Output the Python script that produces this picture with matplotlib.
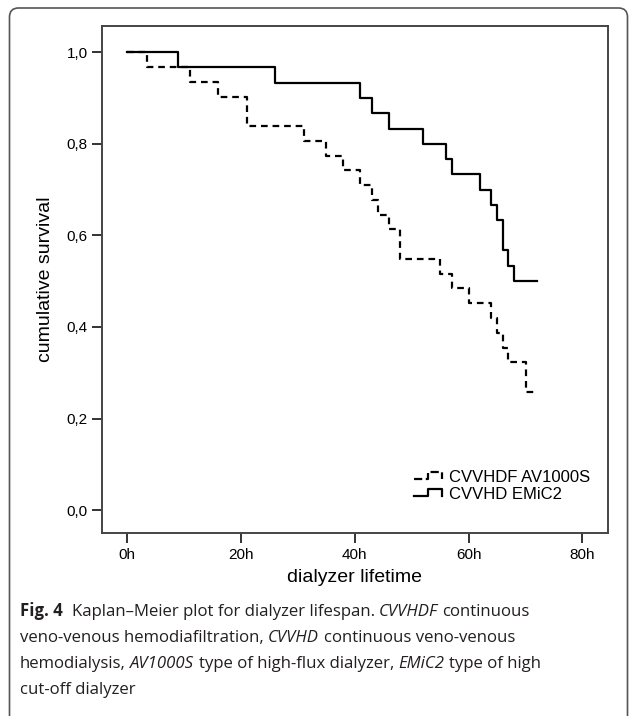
import matplotlib
matplotlib.use("Agg")
import matplotlib.pyplot as plt
from matplotlib.lines import Line2D
from matplotlib.legend_handler import HandlerLine2D
from matplotlib.patches import FancyBboxPatch
from matplotlib.transforms import IdentityTransform

# Kaplan-Meier step data (hours, cumulative survival)
hdf_time = [0, 3.5, 11, 16, 21, 31, 35, 38, 41, 43, 44, 46, 48, 55, 57, 60, 64, 65, 66, 67, 70, 72]
hdf_surv = [1.0, 0.968, 0.935, 0.903, 0.839, 0.806, 0.774, 0.742, 0.710, 0.677, 0.645, 0.613,
            0.548, 0.516, 0.484, 0.452, 0.419, 0.387, 0.355, 0.323, 0.258, 0.258]
hd_time = [0, 9, 26, 41, 43, 46, 52, 56, 57, 62, 64, 65, 66, 67, 68, 72]
hd_surv = [1.0, 0.967, 0.933, 0.9, 0.867, 0.833, 0.8, 0.767, 0.733, 0.7, 0.667, 0.633,
           0.567, 0.533, 0.5, 0.5]

x_ticks = [0, 20, 40, 60, 80]
x_ticklabels = ["0h", "20h", "40h", "60h", "80h"]
y_ticks = [0.0, 0.2, 0.4, 0.6, 0.8, 1.0]
y_ticklabels = ["0,0", "0,2", "0,4", "0,6", "0,8", "1,0"]
labels = ["CVVHDF AV1000S", "CVVHD EMiC2"]

W, H = 629, 716
plt.rcParams["font.family"] = ["Liberation Sans", "DejaVu Sans"]

fig = plt.figure(figsize=(W / 100, H / 100), dpi=100)
ax = fig.add_axes([101.5 / W, 1 - 533 / H, 506 / W, 507 / H])


class StepHandler(HandlerLine2D):
    # SPSS style legend handle: small step shape
    def create_artists(self, legend, orig_handle, xdescent, ydescent, width, height, fontsize, trans):
        x0 = -xdescent
        lo = -ydescent + height * 0.2
        hi = -ydescent + height * 0.8
        xs = [x0, x0 + width * 0.45, x0 + width * 0.45, x0 + width * 0.88, x0 + width * 0.88]
        ys = [lo, lo, hi, hi, lo]
        ln = Line2D(xs, ys, color=orig_handle.get_color(), lw=orig_handle.get_linewidth(),
                    linestyle=orig_handle.get_linestyle())
        ln.set_transform(trans)
        return [ln]


l1, = ax.step(hdf_time, hdf_surv, where="post", color="black", lw=1.6, ls=(0, (3, 2.2)))
l2, = ax.step(hd_time, hd_surv, where="post", color="black", lw=1.6)

ax.set_xlim(-4.5, 84.4)
ax.set_ylim(-0.05, 1.057)
ax.set_xticks(x_ticks)
ax.set_xticklabels(x_ticklabels)
ax.set_yticks(y_ticks)
ax.set_yticklabels(y_ticklabels)
ax.tick_params(axis="both", length=7, width=1.4, labelsize=11, color="#333333")
ax.tick_params(axis="x", pad=4)
ax.tick_params(axis="y", pad=3)
for sp in ax.spines.values():
    sp.set_linewidth(1.4)
    sp.set_color("#444444")

ax.set_xlabel("dialyzer lifetime", fontsize=14, labelpad=5)
ax.set_ylabel("cumulative survival", fontsize=14, labelpad=9)

ax.legend([l1, l2], labels, handler_map={l1: StepHandler(), l2: StepHandler()},
          loc="upper left", bbox_to_anchor=(0.617, 0.125), frameon=False, fontsize=12,
          handlelength=1.9, handletextpad=0.2, labelspacing=0.12, borderpad=0, borderaxespad=0)

# rounded outer frame of the figure panel
frame = FancyBboxPatch((9.5, -10), 618, 718, boxstyle="round,pad=0,rounding_size=9",
                       transform=IdentityTransform(), fill=False, ec="#555555", lw=1.2)
fig.patches.append(frame)

# caption with mixed bold / italic runs
caption = [
    [("Fig. 4", "bold"), (" ", "gap"), ("Kaplan–Meier plot for dialyzer lifespan.", "normal"),
     ("CVVHDF", "italic"), ("continuous", "normal")],
    [("veno-venous hemodiafiltration,", "normal"), ("CVVHD", "italic"), ("continuous veno-venous", "normal")],
    [("hemodialysis,", "normal"), ("AV1000S", "italic"), ("type of high-flux dialyzer,", "normal"),
     ("EMiC2", "italic"), ("type of high", "normal")],
    [("cut-off dialyzer", "normal")],
]
cap_font = ["Open Sans", "DejaVu Sans"]
cap_size = 12.1
renderer = fig.canvas.get_renderer()


def text_w(s, **kw):
    t = fig.text(0, 0, s, fontsize=cap_size, family=cap_font, **kw)
    w = t.get_window_extent(renderer).width
    t.remove()
    return w


space = text_w("x x") - text_w("xx")
y = 616
for line in caption:
    x = 20
    first = True
    for s, style in line:
        if style == "gap":
            x += space
            continue
        if not first:
            x += space
        first = False
        kw = {}
        if style == "bold":
            kw["fontweight"] = "bold"
        if style == "italic":
            kw["fontstyle"] = "italic"
        t = fig.text(x / W, 1 - y / H, s, fontsize=cap_size, family=cap_font, va="baseline",
                     color="#231f20", **kw)
        x = t.get_window_extent(renderer).x1
    y += 26

fig.savefig("out.png", dpi=100)
